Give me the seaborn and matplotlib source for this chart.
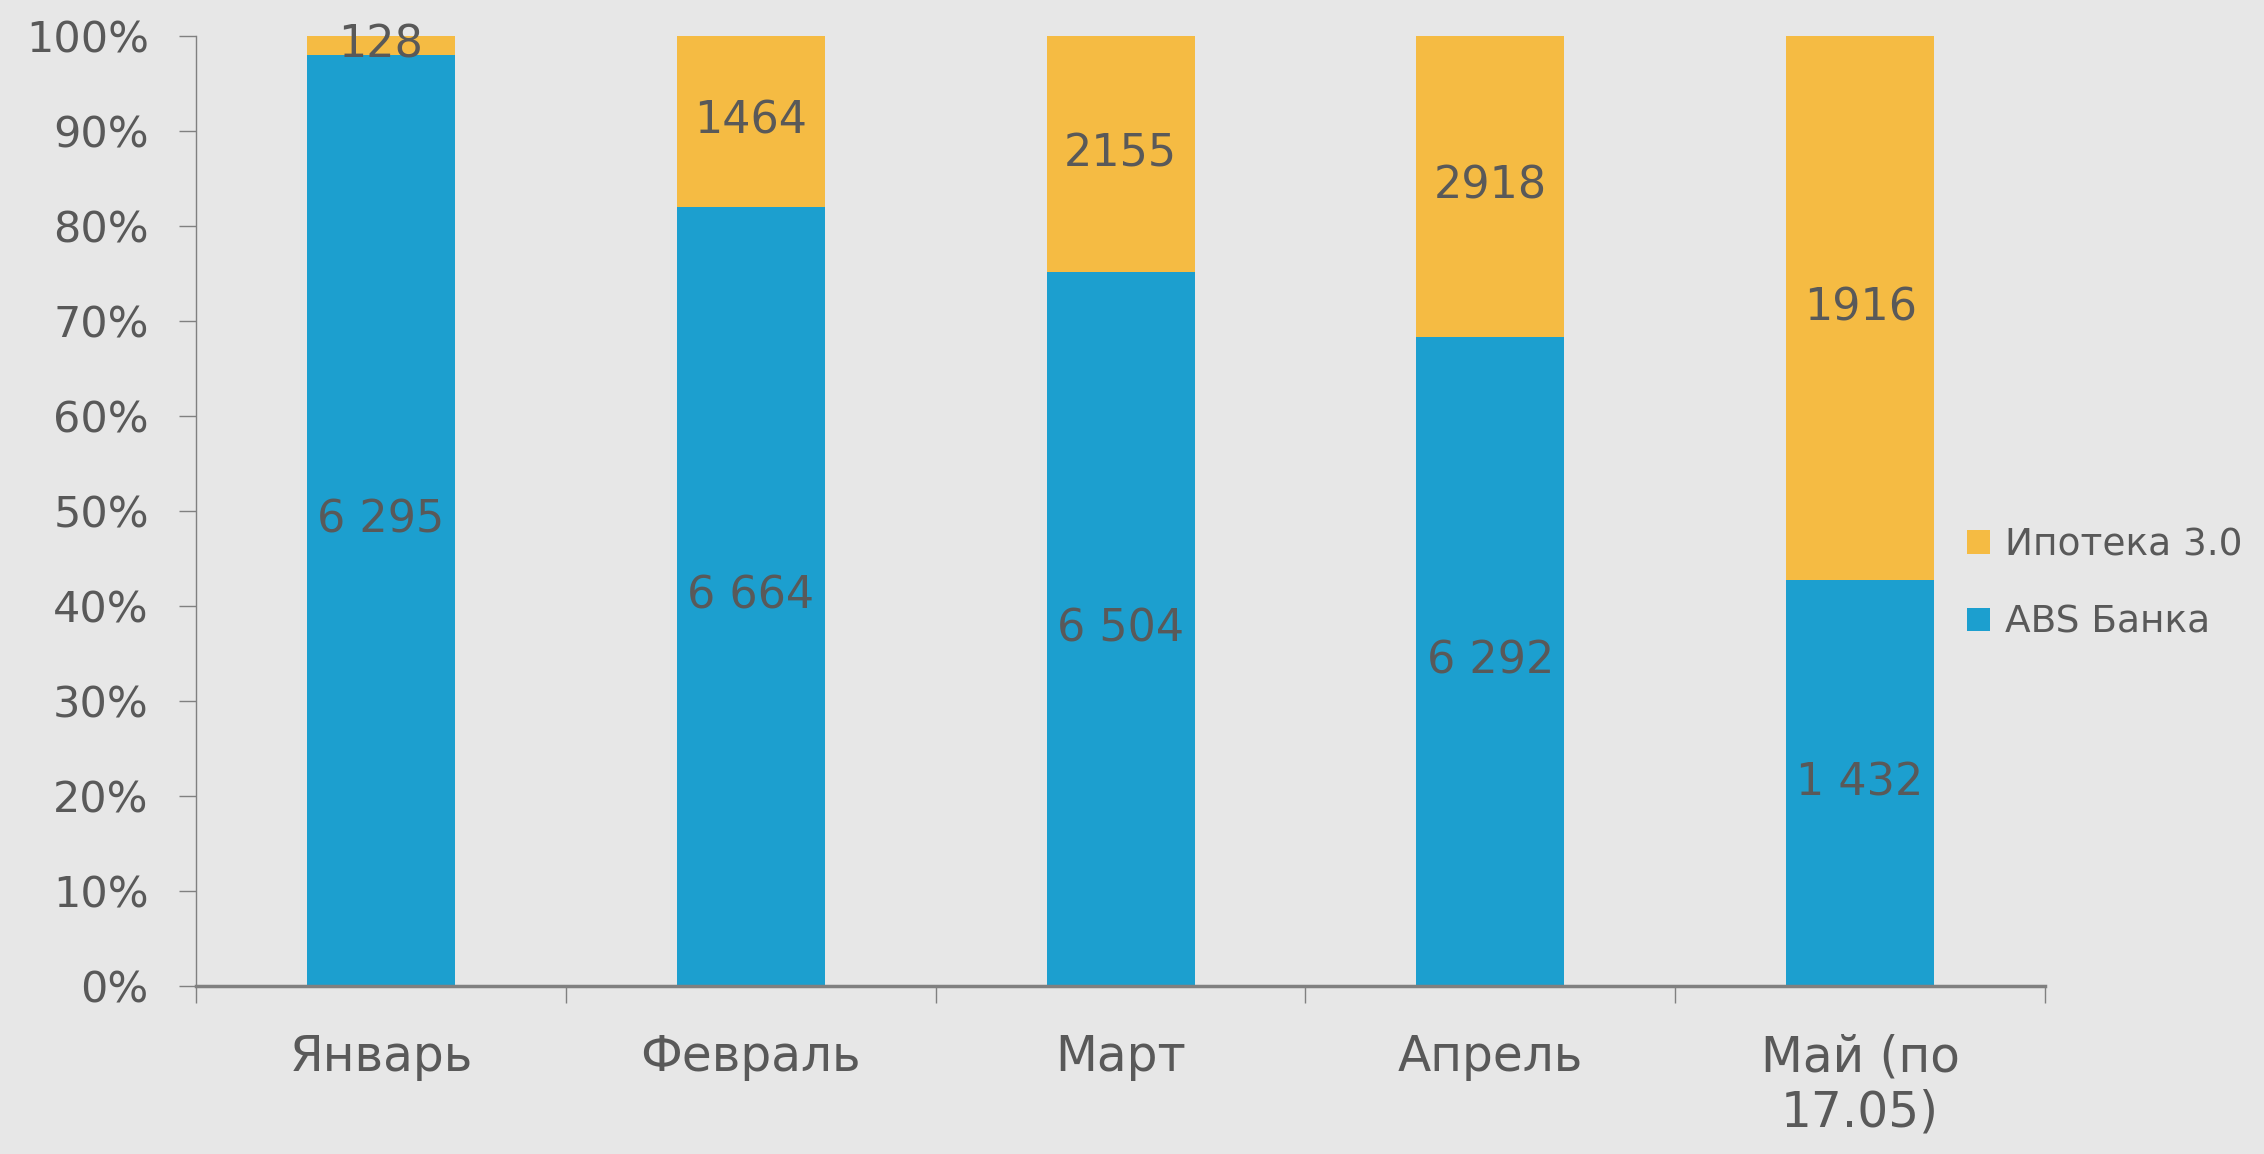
import numpy as np
import pandas as pd
import seaborn as sns
import matplotlib.pyplot as plt
from matplotlib.patches import Patch

months = ["Январь", "Февраль", "Март", "Апрель", "Май (по\n17.05)"]
abs_bank = [6295, 6664, 6504, 6292, 1432]
ipoteka = [128, 1464, 2155, 2918, 1916]
abs_labels = ["6 295", "6 664", "6 504", "6 292", "1 432"]
ipoteka_labels = ["128", "1464", "2155", "2918", "1916"]

BG = "#E7E7E7"
BLUE = "#1C9FCF"
YELLOW = "#F5BB43"
TEXT = "#595959"

df = pd.DataFrame({"month": months, "abs": abs_bank, "ipo": ipoteka})
df["total"] = df["abs"] + df["ipo"]
df["abs_pct"] = df["abs"] / df["total"] * 100
df["full"] = 100.0

sns.set_theme(style="white")
plt.rcParams["font.family"] = ["DejaVu Sans"]

fig = plt.figure(figsize=(22.64, 11.54), dpi=100, facecolor=BG)
ax = fig.add_axes([0.0866, 0.1456, 0.8167, 0.8234])
ax.set_facecolor(BG)

# 100% stacked: yellow full-height bar underneath, blue share on top
sns.barplot(data=df, x="month", y="full", color=YELLOW, width=0.4,
            saturation=1, ax=ax, linewidth=0, edgecolor="none")
sns.barplot(data=df, x="month", y="abs_pct", color=BLUE, width=0.4,
            saturation=1, ax=ax, linewidth=0, edgecolor="none")

for i, row in df.iterrows():
    ax.text(i, row["abs_pct"] / 2, abs_labels[i], ha="center", va="center",
            fontsize=32, color=TEXT)
    ax.text(i, (row["abs_pct"] + 100) / 2, ipoteka_labels[i], ha="center",
            va="center", fontsize=32, color=TEXT)

ax.set_xlim(-0.5, 4.5)
ax.set_ylim(0, 100)
ax.set_yticks(np.arange(0, 101, 10))
ax.set_yticklabels([f"{v}%" for v in range(0, 101, 10)])
ax.set_xlabel("")
ax.set_ylabel("")

ax.set_xticks(np.arange(-0.5, 4.6, 1), minor=True)
ax.tick_params(axis="x", which="major", length=0, pad=34, labelsize=35,
               labelcolor=TEXT)
ax.tick_params(axis="x", which="minor", length=12, width=1, color="#808080",
               direction="out", bottom=True)
ax.tick_params(axis="y", length=12, width=1, color="#808080", direction="out",
               left=True, pad=22, labelsize=31, labelcolor=TEXT)
for lab in ax.get_xticklabels():
    lab.set_linespacing(1.2)

for side in ["top", "right"]:
    ax.spines[side].set_visible(False)
ax.spines["left"].set_color("#808080")
ax.spines["left"].set_linewidth(1)
ax.spines["bottom"].set_color("#808080")
ax.spines["bottom"].set_linewidth(2.5)

handles = [Patch(facecolor=YELLOW, edgecolor="none", label="Ипотека 3.0"),
           Patch(facecolor=BLUE, edgecolor="none", label="ABS Банка")]
ax.legend(handles=handles, loc="center left", bbox_to_anchor=(0.958, 0.423),
          frameon=False, fontsize=27, labelcolor=TEXT, handlelength=0.6,
          handleheight=0.6, handletextpad=0.4, labelspacing=1.1,
          borderpad=0, borderaxespad=0)

fig.savefig("out.png", dpi=100, facecolor=BG)
